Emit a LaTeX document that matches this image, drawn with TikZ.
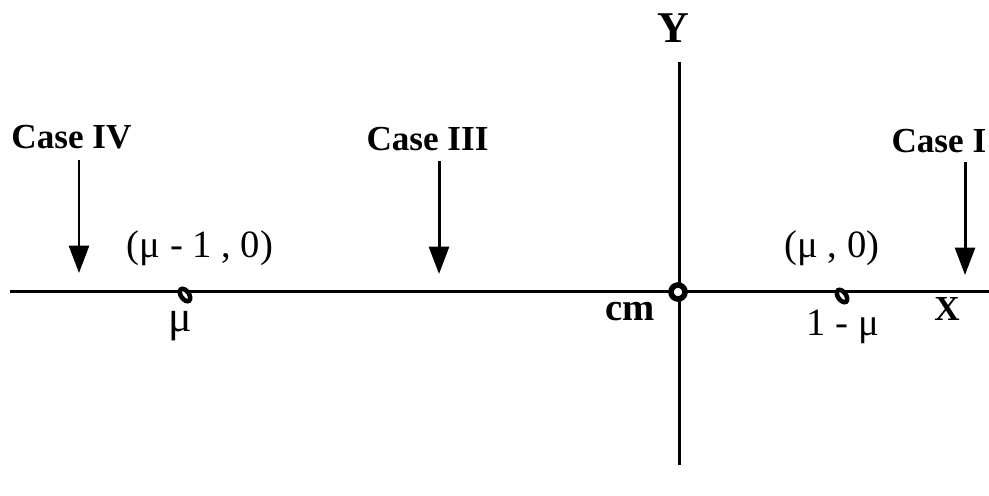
\documentclass[tikz,border=0pt]{standalone}
\usepackage{fontspec}
\setmainfont{Liberation Serif}
\usetikzlibrary{arrows.meta}

\begin{document}
\begin{tikzpicture}[x=0.02cm, y=-0.02cm, line width=1.7pt,
    casearrow/.style={-{Triangle[length=5.5mm, width=4mm]}},
    caselabel/.style={anchor=base west, inner sep=0pt, font=\fontsize{20pt}{22pt}\selectfont\bfseries},
    coordlabel/.style={anchor=base, inner sep=0pt, font=\fontsize{22pt}{24pt}\selectfont},
    axislabel/.style={anchor=base, inner sep=0pt, font=\fontsize{20pt}{22pt}\selectfont\bfseries}]
    \useasboundingbox (0,0) rectangle (989,495);

    % Axes
    \coordinate (xstart) at (10,291);
    \coordinate (xend) at (989,291);
    \coordinate (ytop) at (679,62);
    \coordinate (ybottom) at (679,465);
    \draw (xstart) -- (xend);
    \draw (ytop) -- (ybottom);
    \node[axislabel, font=\fontsize{25pt}{27pt}\selectfont\bfseries] (ylab) at (673,42) {Y};
    \node[axislabel] (xlab) at (947,320) {X};

    % Centre of mass
    \draw[line width=3.2pt, fill=white] (678,292) circle (7);
    \node[axislabel, font=\fontsize{22pt}{24pt}\selectfont\bfseries] (cmlab) at (630,320) {cm};

    % Masses
    \draw[line width=2.6pt, fill=white, rotate around={-55:(185,295)}] (185,295) ellipse (7 and 4);
    \draw[line width=2.6pt, fill=white, rotate around={-55:(842,296)}] (842,296) ellipse (7 and 4);
    \node[coordlabel, font=\fontsize{25pt}{27pt}\selectfont] (mu1) at (180,331) {μ};
    \node[coordlabel] (mu2) at (843,335) {1 - μ};
    \node[coordlabel] (p1) at (200,257) {(μ - 1 , 0)};
    \node[coordlabel] (p2) at (832,257) {(μ , 0)};

    % Cases
    \node[caselabel] (caseIV) at (10,148) {Case IV};
    \node[caselabel] (caseIII) at (365,150) {Case III};
    \node[caselabel] (caseI) at (890,152) {Case I};
    \coordinate (tailIV) at (79,160);
    \coordinate (tipIV) at (79,273);
    \coordinate (tailIII) at (439,161);
    \coordinate (tipIII) at (439,274);
    \coordinate (tailI) at (965,162);
    \coordinate (tipI) at (965,275);
    \draw[casearrow] (tailIV) -- (tipIV);
    \draw[casearrow] (tailIII) -- (tipIII);
    \draw[casearrow] (tailI) -- (tipI);
\end{tikzpicture}
\end{document}
